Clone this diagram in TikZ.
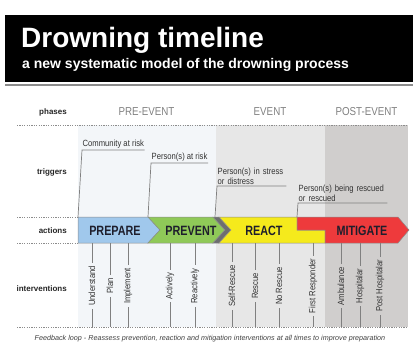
\documentclass[tikz,border=0pt]{standalone}
\usepackage{fontspec}
\setmainfont{Liberation Sans}
\newfontfamily\condf[FakeStretch=0.85]{Liberation Sans}
\newfontfamily\condb[FakeStretch=0.8]{Liberation Sans}
\definecolor{plight}{HTML}{F3F6F9}
\definecolor{pmid}{HTML}{E7E7E7}
\definecolor{pdark}{HTML}{D0CECD}
\definecolor{cblue}{HTML}{A0C8EC}
\definecolor{cgreen}{HTML}{8FC958}
\definecolor{cyellow}{HTML}{F5EA1C}
\definecolor{cred}{HTML}{EE3A3C}
\definecolor{cchev}{HTML}{6D6E70}
\definecolor{btext}{HTML}{1E1E2C}
\tikzset{
 dotline/.style={draw=black!45, line width=0.7pt, dash pattern=on 1.2pt off 1.2pt},
 rowlabel/.style={font=\fontsize{8}{9}\selectfont\bfseries, text=black!85, anchor=east, inner sep=0pt},
 phaselabel/.style={font=\condf\fontsize{11.5}{12}\selectfont, text=black!50, inner sep=0pt},
 trig/.style={font=\condf\fontsize{9}{9.6}\selectfont, text=black!80, inner xsep=0.5pt, inner ysep=1.5pt, anchor=south west, align=left},
 trigline/.style={draw=black!50, line width=0.7pt},
 band/.style={draw=black!45, line width=0.5pt},
 bandtext/.style={font=\condb\bfseries\fontsize{13.5}{14}\selectfont, text=btext, inner sep=0pt},
 interv/.style={rotate=90, font=\condf\fontsize{9}{9.5}\selectfont, text=black!80, inner xsep=3pt, inner ysep=0pt},
 tickline/.style={draw=black!50, line width=0.8pt},
}
\begin{document}
\begin{tikzpicture}[x=1pt,y=-1pt]
\useasboundingbox (0,0) rectangle (413,359);
% header
\fill[black] (5,15) rectangle (413,82);
\draw[black!45, line width=1.2pt] (5,85) -- (413,85);
\node[anchor=base west, font=\bfseries\fontsize{28}{30}\selectfont, text=white, inner sep=0pt] (title) at (21,47) {Drowning timeline};
\node[anchor=base west, font=\bfseries\fontsize{14}{16}\selectfont, text=white, inner sep=0pt] (sub) at (22,68) {a new systematic model of the drowning process};
% panels
\fill[plight] (78,125) rectangle (216,327);
\fill[pmid] (216,125) rectangle (325,327);
\fill[pdark] (325,125) rectangle (408,327);
% dotted separators
\draw[dotline] (17,125) -- (408,125);
\draw[dotline] (17,217) -- (78,217);
\draw[dotline] (17,243) -- (78,243);
\draw[dotline] (17,327) -- (408,327);
% row labels
\node[rowlabel] (lphases) at (67,112) {phases};
\node[rowlabel] (ltriggers) at (67,172) {triggers};
\node[rowlabel] (lactions) at (67,231) {actions};
\node[rowlabel] (linterv) at (67,289) {interventions};
% phase labels
\node[phaselabel] (pre) at (146.5,112) {PRE-EVENT};
\node[phaselabel] (ev) at (270,112) {EVENT};
\node[phaselabel] (post) at (366.5,112) {POST-EVENT};
% action band
\filldraw[band, fill=cblue] (78,217) -- (148,217) -- (160,230) -- (148,243) -- (78,243) -- cycle;
\filldraw[band, fill=cgreen] (148,217) -- (213,217) -- (225,230) -- (213,243) -- (148,243) -- (160,230) -- cycle;
\filldraw[band, fill=cchev] (213,217) -- (219,217) -- (231,230) -- (219,243) -- (213,243) -- (225,230) -- cycle;
\filldraw[band, fill=cyellow] (219,217) -- (297,217) -- (297,230) -- (325,230) -- (325,243) -- (219,243) -- (231,230) -- cycle;
\filldraw[band, fill=cred] (297,217) -- (398,217) -- (409,230) -- (398,243) -- (325,243) -- (325,230) -- (297,230) -- cycle;
\node[bandtext] (prepare) at (115,231) {PREPARE};
\node[bandtext] (prevent) at (191,231) {PREVENT};
\node[bandtext] (react) at (264,231) {REACT};
\node[bandtext] (mitigate) at (362,231) {MITIGATE};
% triggers
\node[trig] (t1) at (82,150) {Community at risk};
\node[trig] (t2) at (151,163) {Person(s) at risk};
\node[trig, text width=68pt] (t3) at (217,186) {Person(s) in stress\\or distress};
\node[trig, text width=88pt] (t4) at (298,203) {Person(s) being rescued\\or rescued};
\coordinate (b1) at (78,217);
\coordinate (b2) at (148,217);
\coordinate (b3) at (215,217);
\coordinate (b4) at (297,217);
\draw[trigline] (t1.south east) -- (t1.south west) -- (b1);
\draw[trigline] (t2.south east) -- (t2.south west) -- (b2);
\draw[trigline] (t3.south east) -- (t3.south west) -- (b3);
\draw[trigline] (t4.south east) -- (t4.south west) -- (b4);
% interventions
\foreach \x/\t/\n in {92/Understand/i1, 110/Plan/i2, 128/Implement/i3, 170/Actively/i4, 195/Reactively/i5, 232/Self-Rescue/i6, 255/Rescue/i7, 279/No Rescue/i8, 313/First Responder/i9, 341/Ambulance/i10, 360/Hospitalar/i11, 380/Post Hospitalar/i12}{
  \node[interv] (\n) at (\x,286) {\t};
  \coordinate (\n t) at (\x,243);
  \coordinate (\n b) at (\x,327);
  \draw[tickline] (\n t) -- (\n.east);
  \draw[tickline] (\n.west) -- (\n b);
}
% footer
\node[font=\itshape\fontsize{7.2}{8}\selectfont, text=black!75, inner sep=0pt] (foot) at (210,339) {Feedback loop - Reassess prevention, reaction and mitigation interventions at all times to improve preparation};
\end{tikzpicture}
\end{document}
